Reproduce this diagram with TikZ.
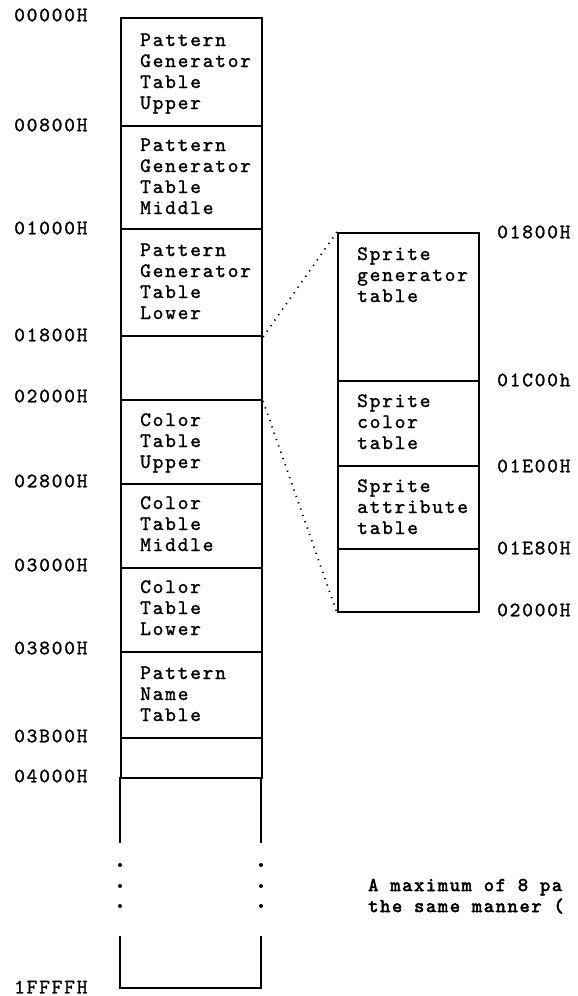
\documentclass[tikz,border=0pt]{standalone}
\usepackage{fontspec}
\newfontfamily\dotfam[LetterSpace=8.5,FakeBold=1.2]{lmmono10-regular.otf}
\newfontfamily\notefam[LetterSpace=8.5,FakeBold=2.8]{lmmono10-regular.otf}
\newcommand{\boxfont}{\dotfam\fontsize{20.5pt}{21pt}\selectfont}
\newcommand{\notefont}{\notefam\fontsize{19.5pt}{21pt}\selectfont}
\begin{document}
\begin{tikzpicture}[x=1pt,y=-1pt,
  sec/.style={draw, rectangle, line width=2pt, minimum width=141pt, inner sep=0pt, anchor=north west},
  txt/.style={anchor=base west, inner sep=0pt, font=\boxfont},
  addr/.style={anchor=west, inner sep=0pt, font=\boxfont},
  link/.style={line width=1.8pt, dash pattern=on 1.2pt off 5.5pt},
  wall/.style={line width=2pt},
  dot/.style={fill=black}]
\useasboundingbox[fill=white] (0,0) rectangle (578,996);
% main column
\node[sec, minimum height=108pt] (pgu) at (120,17) {};
\node[sec, minimum height=103pt] (pgm) at (120,125) {};
\node[sec, minimum height=107pt] (pgl) at (120,228) {};
\node[sec, minimum height=64pt]  (gap) at (120,335) {};
\node[sec, minimum height=84pt]  (ctu) at (120,399) {};
\node[sec, minimum height=84pt]  (ctm) at (120,483) {};
\node[sec, minimum height=84pt]  (ctl) at (120,567) {};
\node[sec, minimum height=86pt]  (pnt) at (120,651) {};
\node[sec, minimum height=40pt]  (gap2) at (120,737) {};
\coordinate (rest) at (120,777);
\coordinate (restR) at (261,777);
\draw[wall] (rest) -- (120,843);
\draw[wall] (restR) -- (261,843);
\draw[wall] (120,936) -- (120,988) -- (261,988) -- (261,936);
\foreach \yy in {865,886,906} {
  \fill[dot] (120,\yy) circle (2pt);
  \fill[dot] (261,\yy) circle (2pt);
}
% main texts
\node[txt] (tpgu) at (140,46) {\parbox[t]{130pt}{Pattern\\Generator\\Table\\Upper}};
\node[txt] (tpgm) at (140,151) {\parbox[t]{130pt}{Pattern\\Generator\\Table\\Middle}};
\node[txt] (tpgl) at (140,256) {\parbox[t]{130pt}{Pattern\\Generator\\Table\\Lower}};
\node[txt] (tctu) at (140,426) {\parbox[t]{130pt}{Color\\Table\\Upper}};
\node[txt] (tctm) at (140,509) {\parbox[t]{130pt}{Color\\Table\\Middle}};
\node[txt] (tctl) at (140,593) {\parbox[t]{130pt}{Color\\Table\\Lower}};
\node[txt] (tpnt) at (140,679) {\parbox[t]{130pt}{Pattern\\Name\\Table}};
% main addresses
\node[addr] (a0) at (14,15) {00000H};
\node[addr] (a1) at (14,125) {00800H};
\node[addr] (a2) at (14,228) {01000H};
\node[addr] (a3) at (14,335) {01800H};
\node[addr] (a4) at (14,396) {02000H};
\node[addr] (a5) at (14,481) {02800H};
\node[addr] (a6) at (14,565) {03000H};
\node[addr] (a7) at (14,648) {03800H};
\node[addr] (a8) at (14,736) {03B00H};
\node[addr] (a9) at (14,776) {04000H};
\node[addr] (a10) at (14,987) {1FFFFH};
% sprite column
\node[sec, minimum height=148pt] (sgt) at (337,232) {};
\node[sec, minimum height=85pt]  (sct) at (337,380) {};
\node[sec, minimum height=83pt]  (sat) at (337,465) {};
\node[sec, minimum height=63pt]  (sfree) at (337,548) {};
\node[txt] (tsgt) at (357,260) {\parbox[t]{130pt}{Sprite\\generator\\table}};
\node[txt] (tsct) at (357,407) {\parbox[t]{130pt}{Sprite\\color\\table}};
\node[txt] (tsat) at (357,492) {\parbox[t]{130pt}{Sprite\\attribute\\table}};
\node[addr] (b0) at (497,232) {01800H};
\node[addr] (b1) at (497,380) {01C00h};
\node[addr] (b2) at (497,466) {01E00H};
\node[addr] (b3) at (497,548) {01E80H};
\node[addr] (b4) at (497,610) {02000H};
% zoom connectors
\draw[link] (pgl.south east) -- (sgt.north west);
\draw[link] (gap.south east) -- (sfree.south west);
% note
\node[txt, font=\notefont] (note) at (368,891) {\parbox[t]{200pt}{A maximum of 8 pa\\the same manner (}};
\end{tikzpicture}
\end{document}
